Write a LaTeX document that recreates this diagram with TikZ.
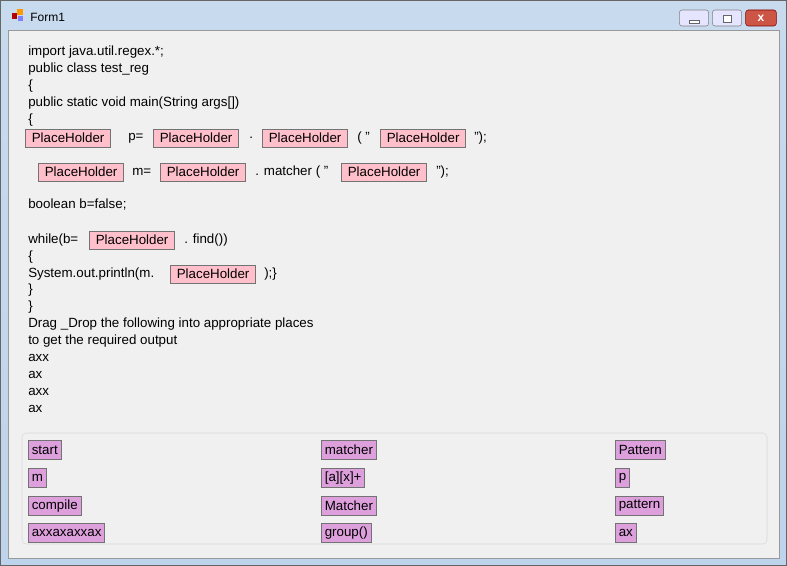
\documentclass[tikz,border=0pt]{standalone}
\usepackage{fontspec}
\setmainfont{Liberation Sans}
\definecolor{frameA}{RGB}{200,218,238}
\definecolor{frameB}{RGB}{190,212,236}
\definecolor{client}{RGB}{240,240,240}
\definecolor{plumc}{RGB}{221,160,221}
\definecolor{pinkc}{RGB}{255,192,203}
\definecolor{closec}{RGB}{205,85,70}
\begin{document}
\begin{tikzpicture}[x=0.75pt,y=-0.75pt,
 txt/.style={anchor=west,inner sep=0pt,font=\fontsize{10}{12}\selectfont},
 ph/.style={anchor=west,draw=black!55,fill=pinkc,inner sep=2pt,minimum height=13.5pt,font=\fontsize{10}{12}\selectfont,line width=0.7pt},
 item/.style={anchor=west,draw=black!55,fill=plumc,inner xsep=2.5pt,inner ysep=1pt,minimum height=14pt,font=\fontsize{10}{12}\selectfont,line width=0.7pt}]
\useasboundingbox (0,0) rectangle (787,566);
% window frame
\fill[top color=frameA,bottom color=frameB] (0,0) rectangle (787,566);
\draw[black!60] (0.5,0.5) rectangle (786.5,565.5);
\fill[client] (8,30) rectangle (779,558);
\draw[black!40] (8,30) rectangle (779,558);
% icon + title
\fill[red!70!black] (12,13) rectangle (17,19);
\fill[orange!80!yellow] (17,9) rectangle (23,15);
\fill[blue!50] (18,16) rectangle (23,21);
\node[txt,font=\fontsize{9}{11}\selectfont] (title) at (30,17) {Form1};
% buttons
\node[draw=black!50,fill=blue!10,rounded corners=2pt,minimum width=22pt,minimum height=12pt,inner sep=0pt] (bmin) at (694,18) {};
\node[draw=black!50,fill=blue!10,rounded corners=2pt,minimum width=22pt,minimum height=12pt,inner sep=0pt] (bmax) at (727,18) {};
\node[draw=red!50!black,fill=closec,rounded corners=2pt,minimum width=23pt,minimum height=12pt,inner sep=0pt,text=white,font=\bfseries\small] (bclose) at (761,18) {x};
\fill[white,draw=black!60] (689,20) rectangle (699,23);
\draw[black!60,fill=white] (723,15) rectangle (731,22);
% code
\node[txt] (l1) at (28,52) {import java.util.regex.*;};
\node[txt] (l2) at (28,69) {public class test\_reg};
\node[txt] (l3) at (28,86) {\{};
\node[txt] (l4) at (28,103) {public static void main(String args[])};
\node[txt] (l5) at (28,120) {\{};
\node[ph,minimum width=64pt] (p1) at (25,138) {PlaceHolder};
\node[txt] (t1) at (128,138) {p=};
\node[ph,minimum width=64pt] (p2) at (153,138) {PlaceHolder};
\node[txt] (t2) at (249,138) {.};
\node[ph,minimum width=64pt] (p3) at (262,138) {PlaceHolder};
\node[txt] (t3) at (357,138) {( "};
\node[ph,minimum width=64pt] (p4) at (380,138) {PlaceHolder};
\node[txt] (t4) at (474,138) {");};
\node[ph,minimum width=64pt] (p5) at (38,172) {PlaceHolder};
\node[txt] (t5) at (132,172) {m=};
\node[ph,minimum width=64pt] (p6) at (160,172) {PlaceHolder};
\node[txt] (t6) at (255,172) {. matcher ( "};
\node[ph,minimum width=64pt] (p7) at (341,172) {PlaceHolder};
\node[txt] (t7) at (436,172) {");};
\node[txt] (l6) at (28,205) {boolean b=false;};
\node[txt] (l7) at (28,240) {while(b=};
\node[ph,minimum width=64pt] (p8) at (89,240) {PlaceHolder};
\node[txt] (t8) at (184,240) {. find())};
\node[txt] (l8) at (28,257) {\{};
\node[txt] (l9) at (28,274) {System.out.println(m.};
\node[ph,minimum width=64pt] (p9) at (170,274) {PlaceHolder};
\node[txt] (t9) at (264,274) {);\}};
\node[txt] (l10) at (28,290) {\}};
\node[txt] (l11) at (28,307) {\}};
\node[txt] (l12) at (28,324) {Drag \_Drop the following into appropriate places};
\node[txt] (l13) at (28,341) {to get the required output};
\node[txt] (l14) at (28,358) {axx};
\node[txt] (l15) at (28,375) {ax};
\node[txt] (l16) at (28,392) {axx};
\node[txt] (l17) at (28,409) {ax};
% panel
\draw[black!15,rounded corners=3pt] (22,433) rectangle (767,544);
\node[item] (i1) at (28,450) {start};
\node[item] (i2) at (28,478) {m};
\node[item] (i3) at (28,506) {compile};
\node[item] (i4) at (28,533) {axxaxaxxax};
\node[item] (i5) at (321,450) {matcher};
\node[item] (i6) at (321,478) {[a][x]+};
\node[item] (i7) at (321,506) {Matcher};
\node[item] (i8) at (321,533) {group()};
\node[item] (i9) at (615,450) {Pattern};
\node[item] (i10) at (615,478) {p};
\node[item] (i11) at (615,506) {pattern};
\node[item] (i12) at (615,533) {ax};
\end{tikzpicture}
\end{document}
